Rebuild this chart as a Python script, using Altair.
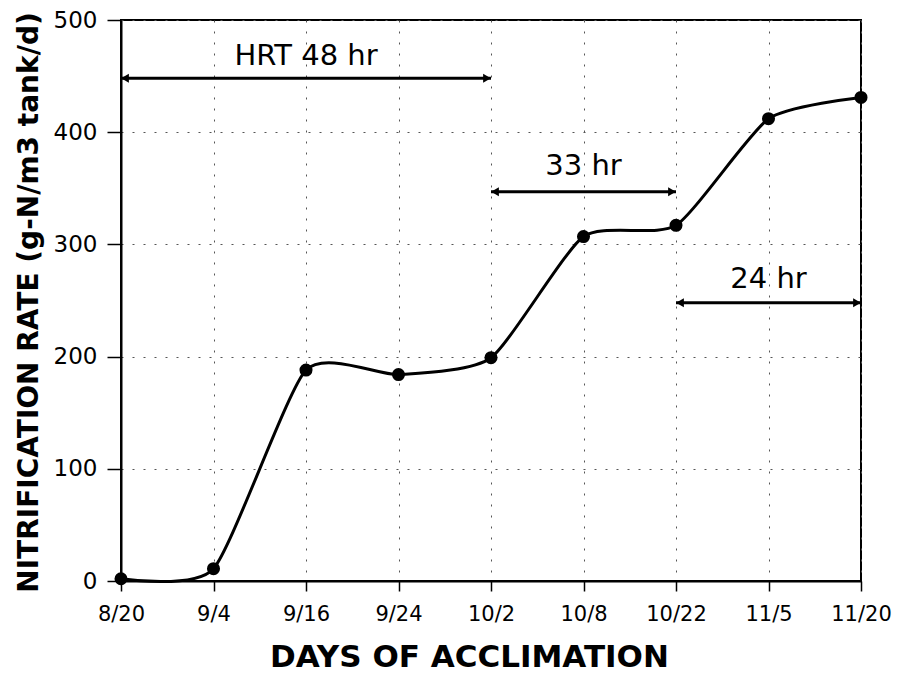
import altair as alt
import pandas as pd

dates = ["8/20", "9/4", "9/16", "9/24", "10/2", "10/8", "10/22", "11/5", "11/20"]
rates = [2, 11, 188, 184, 199, 307, 317, 412, 431]

arrow_start = ["8/20", "10/2", "10/22"]
arrow_end = ["10/2", "10/22", "11/20"]
arrow_y = [448, 347, 248]
label_text = ["HRT 48 hr", "33 hr", "24 hr"]
label_x = ["9/16", "10/8", "11/5"]
label_y = [460, 362, 261]

FONT = "DejaVu Sans"

df = pd.DataFrame({"date": dates, "rate": rates})
arrows = pd.DataFrame({"start": arrow_start, "end": arrow_end, "y": arrow_y})
labels = pd.DataFrame({"text": label_text, "x": label_x, "y": label_y})

xscale = alt.Scale(domain=dates, type="point", padding=0)
yscale = alt.Scale(domain=[0, 500])

xaxis = alt.Axis(title="DAYS OF ACCLIMATION", labelFontSize=21, labelFont=FONT,
                 titleFont=FONT, titleFontSize=31, titleFontWeight="bold",
                 labelAngle=0, tickSize=10, labelPadding=12,
                 titleX=348, titleY=85, titleBaseline="alphabetic",
                 grid=True, gridDash=[2, 9], gridColor="#555", gridWidth=1,
                 domainColor="black", tickColor="black", labelColor="black",
                 titleColor="black", domainWidth=2, tickWidth=1.5)
yaxis = alt.Axis(title="NITRIFICATION RATE (g-N/m3 tank/d)", values=[0, 100, 200, 300, 400, 500],
                 labelFontSize=23, labelFont=FONT, titleFont=FONT, titleFontSize=28,
                 titleFontWeight="bold", tickSize=14, labelPadding=10,
                 titleX=-92, titleY=282, titleAlign="center", titleBaseline="middle",
                 grid=True, gridDash=[2, 9], gridColor="#555", gridWidth=1,
                 domainColor="black", tickColor="black", labelColor="black",
                 titleColor="black", domainWidth=2, tickWidth=1.5)

base = alt.Chart(df)
line = base.mark_line(interpolate="cardinal", tension=0.4, color="black", strokeWidth=3).encode(
    x=alt.X("date:O", scale=xscale, axis=xaxis, sort=dates),
    y=alt.Y("rate:Q", scale=yscale, axis=yaxis),
)
pts = base.mark_point(filled=True, color="black", size=170, opacity=1).encode(
    x=alt.X("date:O", scale=xscale, sort=dates),
    y=alt.Y("rate:Q", scale=yscale),
)

arr = alt.Chart(arrows)
rules = arr.mark_rule(color="black", strokeWidth=3).encode(
    x=alt.X("start:O", scale=xscale, sort=dates),
    x2="end:O",
    y=alt.Y("y:Q", scale=yscale),
)
headL = arr.mark_point(shape="triangle-left", filled=True, color="black", size=80,
                       opacity=1, xOffset=4).encode(
    x=alt.X("start:O", scale=xscale, sort=dates),
    y=alt.Y("y:Q", scale=yscale),
)
headR = arr.mark_point(shape="triangle-right", filled=True, color="black", size=80,
                       opacity=1, xOffset=-4).encode(
    x=alt.X("end:O", scale=xscale, sort=dates),
    y=alt.Y("y:Q", scale=yscale),
)
txt = alt.Chart(labels).mark_text(font=FONT, fontSize=29, color="black", baseline="alphabetic").encode(
    x=alt.X("x:O", scale=xscale, sort=dates),
    y=alt.Y("y:Q", scale=yscale),
    text="text:N",
)

chart = alt.layer(line, pts, rules, headL, headR, txt).properties(
    width=740, height=561,
    autosize=alt.AutoSizeParams(type="none"),
    padding={"left": 113, "top": 12, "right": 31, "bottom": 92},
    background="white",
).configure_view(stroke="black", strokeWidth=2)

chart.save("out.html", embed_options={"renderer": "svg", "actions": False})
